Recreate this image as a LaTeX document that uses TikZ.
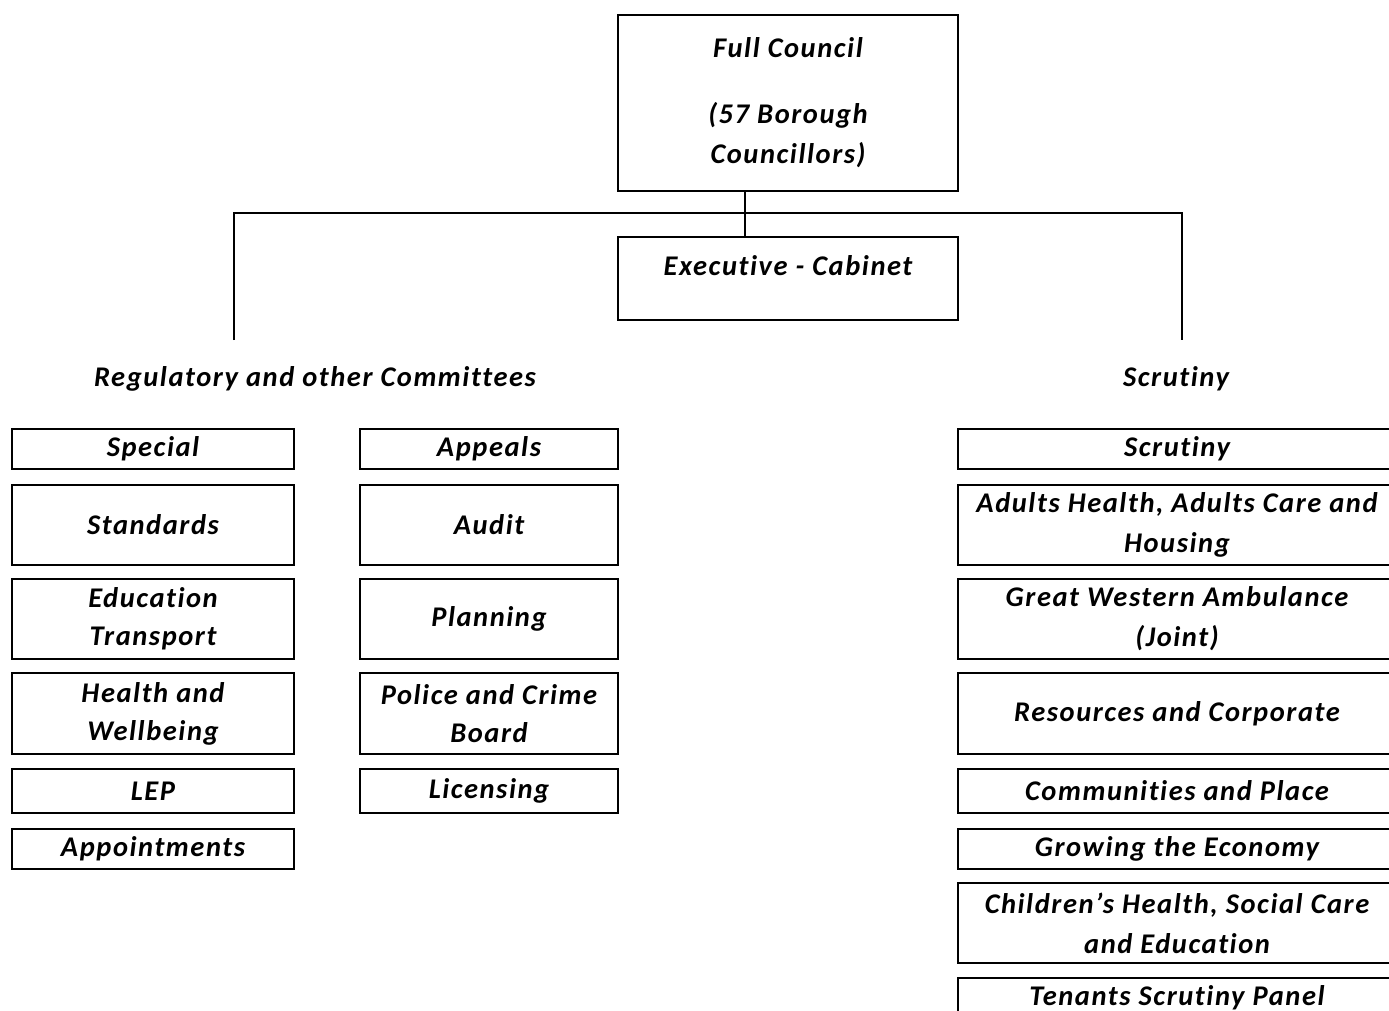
\documentclass[tikz,border=0pt]{standalone}
\usepackage{fontspec}
\setmainfont{Carlito}[LetterSpace=5.5,Ligatures={NoCommon}]
\begin{document}
\begin{tikzpicture}[x=1pt,y=-1pt,
  box/.style={draw,line width=2pt,rectangle,anchor=north west,inner sep=0pt,align=center,
    font=\fontsize{28.5}{40}\selectfont\bfseries\itshape},
  lbox/.style={box,font=\fontsize{28.5}{38}\selectfont\bfseries\itshape},
  head/.style={font=\fontsize{28.5}{40}\selectfont\bfseries\itshape,inner sep=0pt},
  conn/.style={line width=2pt}]
\useasboundingbox (0,0) rectangle (1389,1011);
\clip (0,0) rectangle (1389,1011);
% top
\node[box,minimum width=340,minimum height=176] (fc) at (617,14) {Full Council\\[26pt](57 Borough\\Councillors)};
\node[box,minimum width=340,minimum height=83,text height=20pt,text depth=27pt] (exec) at (617,236) {Executive - Cabinet};
\coordinate (j) at (745,213);
\coordinate (lt) at (234,340);
\coordinate (rt) at (1182,340);
\draw[conn] (j |- fc.south) -- (j |- exec.north);
\draw[conn] (lt) -- (lt |- j) -- (rt |- j) -- (rt);
% headings
\node[head] (hreg) at (315,379) {Regulatory and other Committees};
\node[head] (hscr) at (1176,379) {Scrutiny};
% left column
\node[lbox,minimum width=282,minimum height=40] (special) at (11,428) {Special};
\node[lbox,minimum width=282,minimum height=80] (standards) at (11,484) {Standards};
\node[lbox,minimum width=282,minimum height=80] (edu) at (11,578) {Education\\Transport};
\node[lbox,minimum width=282,minimum height=81] (health) at (11,672) {Health and\\Wellbeing};
\node[lbox,minimum width=282,minimum height=44] (lep) at (11,768) {LEP};
\node[lbox,minimum width=282,minimum height=40] (appt) at (11,828) {Appointments};
% middle column
\node[lbox,minimum width=258,minimum height=40] (appeals) at (359,428) {Appeals};
\node[lbox,minimum width=258,minimum height=80] (audit) at (359,484) {Audit};
\node[lbox,minimum width=258,minimum height=80] (planning) at (359,578) {Planning};
\node[lbox,minimum width=258,minimum height=81] (police) at (359,672) {Police and Crime\\Board};
\node[lbox,minimum width=258,minimum height=44] (lic) at (359,768) {Licensing};
% right column
\node[box,minimum width=438,minimum height=40] (s1) at (957,428) {Scrutiny};
\node[box,minimum width=438,minimum height=80] (s2) at (957,484) {Adults Health, Adults Care and\\Housing};
\node[box,minimum width=438,minimum height=80] (s3) at (957,578) {Great Western Ambulance\\(Joint)};
\node[box,minimum width=438,minimum height=81] (s4) at (957,672) {Resources and Corporate};
\node[box,minimum width=438,minimum height=44] (s5) at (957,768) {Communities and Place};
\node[box,minimum width=438,minimum height=40] (s6) at (957,828) {Growing the Economy};
\node[box,minimum width=438,minimum height=80] (s7) at (957,882) {Children’s Health, Social Care\\and Education};
\node[box,minimum width=438,minimum height=40] (s8) at (957,977) {Tenants Scrutiny Panel};
\end{tikzpicture}
\end{document}
